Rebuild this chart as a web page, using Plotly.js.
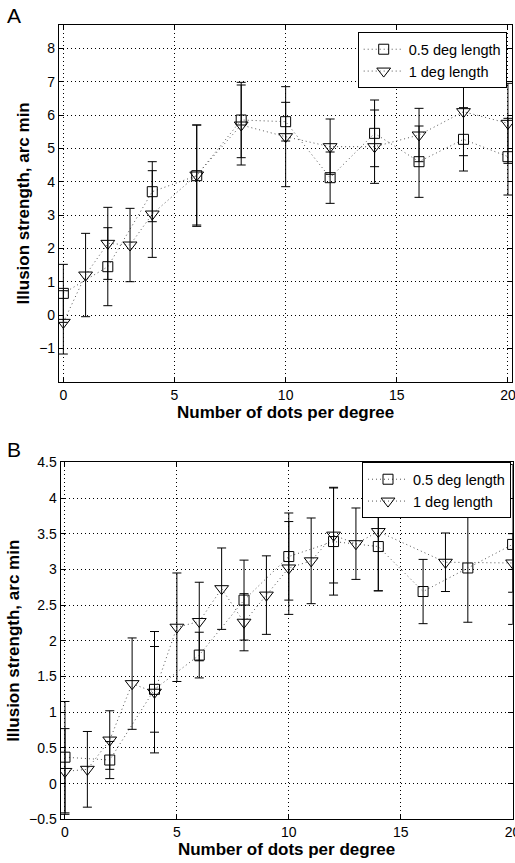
<!DOCTYPE html>
<html>
<head>
<meta charset="utf-8">
<script src="https://cdn.plot.ly/plotly-3.0.1.min.js"></script>
<style>html,body{margin:0;padding:0;background:#fff}#chart{width:515px;height:863px}</style>
</head>
<body>
<div id="chart"></div>
<script>
// Panel A data
const xA_sq = [0, 2, 4, 6, 8, 10, 12, 14, 16, 18, 20];
const yA_sq = [0.65, 1.45, 3.7, 4.18, 5.85, 5.8, 4.12, 5.45, 4.6, 5.27, 4.75];
const eA_sq = [0.87, 1.17, 0.9, 1.52, 1.13, 0.58, 0.77, 1.0, 1.07, 0.95, 1.15];
const xA_tri = [0, 1, 2, 3, 4, 6, 8, 10, 12, 14, 16, 18, 20];
const yA_tri = [-0.22, 1.2, 2.15, 2.1, 3.03, 4.2, 5.7, 5.35, 5.05, 5.05, 5.4, 6.1, 5.75];
const eA_tri = [0.95, 1.25, 1.08, 1.1, 1.3, 1.5, 1.2, 1.5, 0.83, 1.1, 0.8, 1.32, 1.2];

// Panel B data
const xB_sq = [0, 2, 4, 6, 8, 10, 12, 14, 16, 18, 20];
const yB_sq = [0.37, 0.33, 1.32, 1.8, 2.57, 3.18, 3.39, 3.32, 2.69, 3.02, 3.35];
const eB_sq = [0.78, 0.26, 0.6, 0.32, 0.56, 0.61, 0.75, 0.62, 0.45, 0.76, 1.12];
const xB_tri = [0, 1, 2, 3, 4, 5, 6, 7, 8, 9, 10, 11, 12, 13, 14, 17, 20];
const yB_tri = [0.17, 0.2, 0.61, 1.4, 1.28, 2.19, 2.27, 2.73, 2.26, 2.64, 3.02, 3.12, 3.48, 3.36, 3.53, 3.1, 3.09];
const eB_tri = [0.6, 0.53, 0.41, 0.64, 0.85, 0.76, 0.55, 0.57, 0.4, 0.55, 0.65, 0.6, 0.67, 0.5, 0.83, 0.41, 0.41];

const seriesNames = ['0.5 deg length', '1 deg length'];
const xTicks = [0, 5, 10, 15, 20];
const yTicksA = [-1, 0, 1, 2, 3, 4, 5, 6, 7, 8];
const yTicksB = [-0.5, 0, 0.5, 1, 1.5, 2, 2.5, 3, 3.5, 4, 4.5];
const xTitle = 'Number of dots per degree';
const yTitle = 'Illusion strength, arc min';

const FONT = 'Arial, "Liberation Sans", Helvetica, sans-serif';

function mk(x, y, e, name, symbol, size, xa, ya, leg) {
  return {
    type: 'scatter', mode: 'lines+markers', x: x, y: y, name: name,
    xaxis: xa, yaxis: ya, legend: leg, showlegend: true,
    line: {color: '#555', width: 1, dash: '1px,3px'},
    marker: {symbol: symbol, size: size, color: '#000', line: {width: 1, color: '#000'}},
    error_y: {type: 'data', array: e, visible: true, color: '#000', thickness: 1, width: 4.5}
  };
}

const traces = [
  mk(xA_sq, yA_sq, eA_sq, seriesNames[0], 'square-open', 10, 'x', 'y', 'legend'),
  mk(xA_tri, yA_tri, eA_tri, seriesNames[1], 'triangle-down-open', 12, 'x', 'y', 'legend'),
  mk(xB_sq, yB_sq, eB_sq, seriesNames[0], 'square-open', 10, 'x2', 'y2', 'legend2'),
  mk(xB_tri, yB_tri, eB_tri, seriesNames[1], 'triangle-down-open', 12, 'x2', 'y2', 'legend2')
];

function axisBase() {
  return {
    showline: true, mirror: 'ticks', linecolor: '#000', linewidth: 1,
    ticks: 'inside', ticklen: 5, tickcolor: '#000', tickwidth: 1,
    showgrid: true, gridcolor: '#000', gridwidth: 1, griddash: '1px,3px',
    zeroline: false, automargin: false, ticklabeloverflow: 'allow',
    tickfont: {family: FONT, size: 14, color: '#000'}
  };
}

const W = 515, H = 863;
const titleFont = {family: FONT, size: 17, weight: 'bold', color: '#000'};
const layout = {
  width: W, height: H,
  margin: {l: 0, r: 0, t: 0, b: 0},
  paper_bgcolor: '#fff', plot_bgcolor: '#fff',
  font: {family: FONT, color: '#000'},
  xaxis: Object.assign(axisBase(), {
    domain: [58.9 / W, 512.4 / W], anchor: 'y', range: [-0.2, 20.2], tickvals: xTicks,
    title: {text: xTitle, font: titleFont, standoff: 4}
  }),
  yaxis: Object.assign(axisBase(), {
    domain: [1 - 381.7 / H, 1 - 25 / H], anchor: 'x', range: [-2, 8.7], tickvals: yTicksA,
    title: {text: yTitle, font: titleFont, standoff: 5}
  }),
  xaxis2: Object.assign(axisBase(), {
    domain: [60.5 / W, 512.6 / W], anchor: 'y2', range: [-0.2, 20], tickvals: xTicks,
    title: {text: xTitle, font: titleFont, standoff: 4}
  }),
  yaxis2: Object.assign(axisBase(), {
    domain: [1 - 819.3 / H, 1 - 462.3 / H], anchor: 'x2', range: [-0.5, 4.5], tickvals: yTicksB,
    title: {text: yTitle, font: titleFont, standoff: 5}
  }),
  legend: {
    x: 506.7 / W, y: 1 - 32.3 / H, xanchor: 'right', yanchor: 'top',
    bgcolor: '#fff', bordercolor: '#000', borderwidth: 1,
    font: {family: FONT, size: 14.5, color: '#000'}, itemwidth: 40, tracegroupgap: 0
  },
  legend2: {
    x: 511 / W, y: 1 - 462.3 / H, xanchor: 'right', yanchor: 'top',
    bgcolor: '#fff', bordercolor: '#000', borderwidth: 1,
    font: {family: FONT, size: 14.5, color: '#000'}, itemwidth: 40, tracegroupgap: 0
  },
  annotations: [
    {text: 'A', xref: 'paper', yref: 'paper', x: 5 / W, y: 1 - 15 / H, xanchor: 'left', yanchor: 'middle',
     showarrow: false, font: {family: FONT, size: 21, color: '#000'}},
    {text: 'B', xref: 'paper', yref: 'paper', x: 5 / W, y: 1 - 449 / H, xanchor: 'left', yanchor: 'middle',
     showarrow: false, font: {family: FONT, size: 21, color: '#000'}}
  ],
  showlegend: true
};

Plotly.newPlot('chart', traces, layout, {displayModeBar: false, staticPlot: true});
</script>
</body>
</html>
